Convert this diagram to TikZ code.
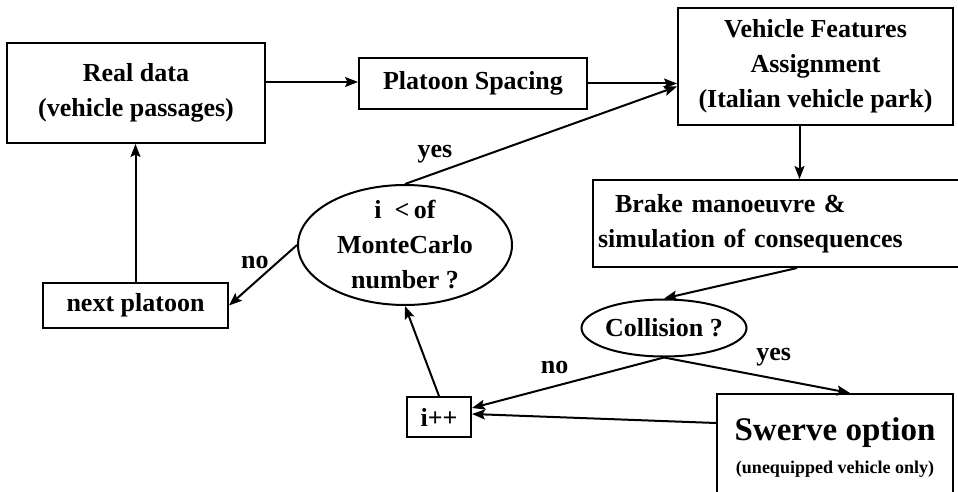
\documentclass[tikz,border=0pt]{standalone}
\usepackage{fontspec}
\setmainfont{Liberation Serif}
\usetikzlibrary{arrows.meta,shapes.geometric}
\tikzset{
  box/.style = {rectangle, draw, line width=2pt, inner sep=0pt, align=center},
  decision/.style = {ellipse, draw, line width=2pt, inner sep=0pt},
  flow/.style = {line width=2pt, -{Stealth[length=13pt,width=10pt,inset=2.5pt]}},
  lbl/.style = {inner sep=0pt},
}

\begin{document}
\begin{tikzpicture}[x=1pt,y=-1pt,font=\bfseries\fontsize{26}{35}\selectfont]
  \useasboundingbox (0,0) rectangle (958,492);
  \clip (0,0) rectangle (958,492);

  % top row
  \node[box, minimum width=258pt, minimum height=100pt] (real) at (136,93) {Real data\\(vehicle passages)};
  \node[box, minimum width=228pt, minimum height=51pt] (platoon) at (473,83.5) {Platoon Spacing};
  \node[box, minimum width=275pt, minimum height=117pt] (vfa) at (815.5,66.5) {Vehicle Features\\Assignment\\(Italian vehicle park)};

  % simulation step (runs off the right border)
  \node[box, minimum width=372pt, minimum height=87pt, text width=362pt, align=left] (brake) at (779,223.5)
    {\hspace*{17pt}Brake manoeuvre \&\\simulation of consequences};

  % decisions
  \node[decision, minimum width=214pt, minimum height=120pt,
        label={[lbl, align=center]center:{i\enspace<\,of\\MonteCarlo\\number ?}}] (mc) at (405,245) {};
  \node[decision, minimum width=165pt, minimum height=57pt,
        label={[lbl]center:{Collision ?}}] (coll) at (664,328) {};

  % bottom row
  \node[box, minimum width=185pt, minimum height=45pt] (nextp) at (135.5,305.5) {next platoon};
  \node[box, minimum width=64pt, minimum height=40pt] (inc) at (439,417) {i++};
  \node[box, minimum width=236pt, minimum height=106pt] (swerve) at (835,447)
    {{\fontsize{33}{30}\selectfont Swerve option}\\[-2pt]{\fontsize{18}{22}\selectfont (unequipped vehicle only)}};

  % connectors
  \draw[flow] ([yshift=11pt]real.east) -- ([yshift=11pt]real.east -| platoon.west);
  \draw[flow] (platoon.east) -- (platoon.east -| vfa.west);
  \draw[flow] ([xshift=-16pt]vfa.south) -- ([xshift=-16pt]vfa.south |- brake.north);
  \draw[flow] ([xshift=18pt]brake.south) -- (coll.north);
  \draw[flow] (coll.south) -- ([yshift=9pt]inc.east) node[lbl, pos=0.57, above=12pt] {no};
  \draw[flow] (coll.south) -- ([xshift=15pt]swerve.north) node[lbl, pos=0.59, above=11pt] {yes};
  \draw[flow] ([yshift=24pt]swerve.west) -- ([yshift=3pt]inc.east);
  \draw[flow] (inc.north) -- (mc.south);
  \draw[flow] (mc.north) -- ([yshift=-20pt]vfa.west) node[lbl, pos=0.11, above=9pt] {yes};
  \draw[flow] (mc.west) -- (nextp.east) node[lbl, pos=0.62, above=13pt] {no};
  \draw[flow] (nextp.north) -- (nextp.north |- real.south);
\end{tikzpicture}
\end{document}
